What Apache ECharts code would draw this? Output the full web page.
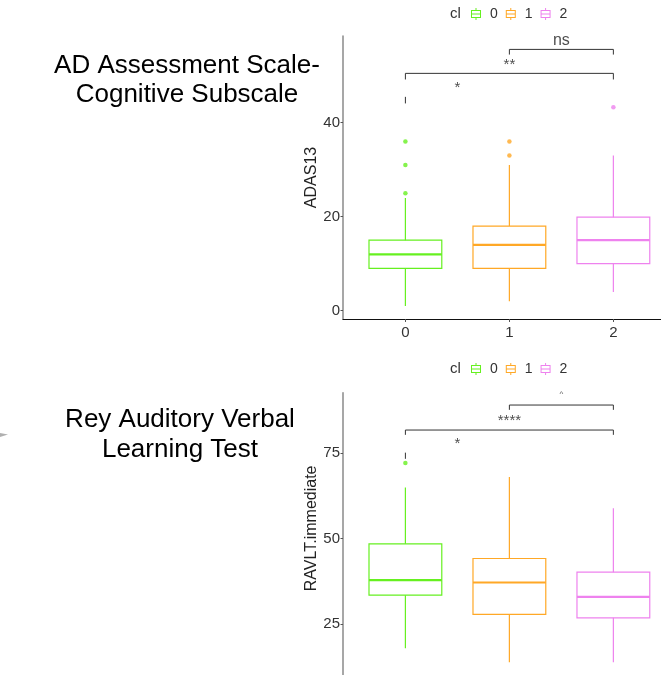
<!DOCTYPE html>
<html>
<head>
<meta charset="utf-8">
<script src="https://cdn.jsdelivr.net/npm/echarts@6/dist/echarts.min.js"></script>
<style>
html,body{margin:0;padding:0;background:#fff;}
#c{width:661px;height:675px;}
</style>
</head>
<body>
<div id="c"></div>
<script>
// ---------- data ----------
var groups = ['0', '1', '2'];
var groupX = [0, 1, 2];
// [min whisker, Q1, median, Q3, max whisker]
var adasBox = [
  [1, 9, 12, 15, 24],
  [2, 9, 14, 18, 31],
  [4, 10, 15, 19.9, 33]
];
var adasOutliers = [
  [25, 31, 36],
  [33, 36],
  [43.3]
];
var ravltBox = [
  [18, 33.5, 37.9, 48.5, 64.9],
  [13.9, 27.9, 37.2, 44.2, 68],
  [13.9, 26.9, 33, 40.2, 58.9]
];
var ravltOutliers = [
  [72.1],
  [],
  []
];
// brackets: [x1, x2, yLine, yTipEnd]
var adasBrackets = [
  [1, 2, 55.6, 54.5],
  [0, 2, 50.5, 49.2],
  [0, 0, 45.5, 44.1]
];
var adasLabels = [
  [1.5, 57.5, 'ns'],
  [1, 53.1, '**'],
  [0.5, 48.2, '*']
];
var ravltBrackets = [
  [1, 2, 89.0, 87.6],
  [0, 2, 81.7, 80.3],
  [0, 0, 75.1, 73.3]
];
var ravltLabels = [
  [1.5, 92.4, '^'],
  [1, 85.6, '****'],
  [0.5, 78.8, '*']
];
var adasTicks = [0, 20, 40];
var ravltTicks = [25, 50, 75];
// visible x-range (the panel is cut by the right edge of the picture)
var xRange = [-0.6, 2.458];

// ---------- styles ----------
var colors = ['#66F020', '#FFA826', '#EE82EE'];
var FONT = '"Liberation Sans", Arial, sans-serif';
var BOX_HALF = 0.35;
var legendIcon = 'path://M0 2H10V3H0Z M0 9H10V10H0Z M0 2H1V10H0Z M9 2H10V10H9Z M0 5.5H10V6.5H0Z M4.5 0H5.5V2H4.5Z M4.5 10H5.5V12H4.5Z';

function renderBox(params, api) {
  var x = api.value(0);
  var lo = api.value(1), q1 = api.value(2), med = api.value(3), q3 = api.value(4), hi = api.value(5);
  var col = api.visual('color');
  var pLo = api.coord([x, lo]), pQ1 = api.coord([x, q1]), pMed = api.coord([x, med]);
  var pQ3 = api.coord([x, q3]), pHi = api.coord([x, hi]);
  var l = api.coord([x - BOX_HALF, q1])[0], r = api.coord([x + BOX_HALF, q1])[0];
  return {
    type: 'group',
    children: [
      { type: 'line', shape: { x1: pLo[0], y1: pLo[1], x2: pQ1[0], y2: pQ1[1] }, style: { stroke: col, lineWidth: 1.2 } },
      { type: 'line', shape: { x1: pHi[0], y1: pHi[1], x2: pQ3[0], y2: pQ3[1] }, style: { stroke: col, lineWidth: 1.2 } },
      { type: 'rect', shape: { x: l, y: pQ3[1], width: r - l, height: pQ1[1] - pQ3[1] }, style: { fill: 'none', stroke: col, lineWidth: 1.2 } },
      { type: 'line', shape: { x1: l, y1: pMed[1], x2: r, y2: pMed[1] }, style: { stroke: col, lineWidth: 2.2 } }
    ]
  };
}

function renderBracket(params, api) {
  var x1 = api.value(0), x2 = api.value(1), yl = api.value(2), yt = api.value(3);
  var a = api.coord([x1, yt]), b = api.coord([x1, yl]), c = api.coord([x2, yl]), d = api.coord([x2, yt]);
  var pts = (x1 === x2) ? [a, b] : [a, b, c, d];
  return { type: 'polyline', shape: { points: pts }, style: { stroke: '#333', lineWidth: 1, fill: 'none' } };
}

function buildSeries(boxes, outliers, brackets, labels, idx) {
  var s = [];
  groups.forEach(function (g, i) {
    s.push({
      type: 'custom', name: g, xAxisIndex: idx, yAxisIndex: idx,
      itemStyle: { color: colors[i] },
      renderItem: renderBox, clip: false,
      encode: { x: 0, y: [1, 2, 3, 4, 5] },
      data: [[groupX[i]].concat(boxes[i])],
      z: 2
    });
    s.push({
      type: 'scatter', name: g, xAxisIndex: idx, yAxisIndex: idx,
      symbolSize: 4.5, itemStyle: { color: colors[i] },
      data: outliers[i].map(function (v) { return [groupX[i], v]; }),
      z: 3
    });
  });
  s.push({
    type: 'custom', xAxisIndex: idx, yAxisIndex: idx,
    renderItem: renderBracket, clip: false, encode: { x: [0, 1], y: [2, 3] },
    data: brackets, z: 4
  });
  s.push({
    type: 'scatter', xAxisIndex: idx, yAxisIndex: idx, symbolSize: 0,
    data: labels.map(function (l) {
      var big = l[2] === 'ns';
      var tiny = l[2] === '^';
      return {
        value: [l[0], l[1]], name: l[2],
        label: { show: true, position: 'inside', formatter: '{b}', color: '#222', fontFamily: FONT,
                 fontSize: big ? 16 : (tiny ? 8 : 15), offset: (big || tiny) ? [0, 0] : [0, 4] }
      };
    }),
    silent: true, z: 5
  });
  return s;
}

function legendCfg(top) {
  return {
    top: top, left: 471, padding: 0, itemWidth: 10, itemHeight: 12, itemGap: 8, icon: legendIcon,
    data: groups.map(function (g) { return { name: g, icon: legendIcon }; }),
    textStyle: { fontFamily: FONT, fontSize: 14, color: '#333', padding: [0, 0, 0, 4] },
    selectedMode: false
  };
}

var yAxisCommon = function (min, max, ticks, name, gridIndex, namePad) {
  return {
    type: 'value', gridIndex: gridIndex, min: min, max: max,
    name: name, nameLocation: 'middle', nameGap: 21, nameRotate: 90,
    nameTextStyle: { fontFamily: FONT, fontSize: 16, color: '#222', padding: namePad },
    splitLine: { show: false },
    axisLine: { show: true, onZero: false, lineStyle: { color: '#8a8a8a', width: 1.5 } },
    axisTick: { show: true, length: 2.5, lineStyle: { color: '#555' }, customValues: ticks },
    axisLabel: { fontFamily: FONT, fontSize: 15, color: '#333', margin: 3, customValues: ticks }
  };
};

var option = {
  animation: false,
  backgroundColor: '#fff',
  legend: [legendCfg(7), legendCfg(362)],
  grid: [
    { left: 343, top: 36, right: 0, height: 283 },
    { left: 343, top: 392.7, right: 0, bottom: 0 }
  ],
  xAxis: [
    {
      type: 'value', gridIndex: 0, min: xRange[0], max: xRange[1],
      splitLine: { show: false },
      axisLine: { show: true, onZero: false, lineStyle: { color: '#111', width: 1.2 } },
      axisTick: { show: true, length: 3, lineStyle: { color: '#555' }, customValues: groupX },
      axisLabel: { fontFamily: FONT, fontSize: 15, color: '#333', margin: 6, customValues: groupX,
                   formatter: function (v) { return groups[groupX.indexOf(v)]; } }
    },
    { type: 'value', gridIndex: 1, min: xRange[0], max: xRange[1], show: false }
  ],
  yAxis: [
    yAxisCommon(-1.77, 58.45, adasTicks, 'ADAS13', 0, [0, 0, 0, 0]),
    yAxisCommon(10.2, 92.6, ravltTicks, 'RAVLT.immediate', 1, [0, 0, 0, 11])
  ],
  graphic: [
    { type: 'text', left: 450, top: 6, style: { text: 'cl', fontFamily: FONT, fontSize: 15, fill: '#333' } },
    { type: 'text', left: 450, top: 361, style: { text: 'cl', fontFamily: FONT, fontSize: 15, fill: '#333' } },
    { type: 'text', x: 187, y: 66, style: { text: 'AD Assessment Scale-', fontFamily: FONT, fontSize: 26, fill: '#000', align: 'center', verticalAlign: 'middle' } },
    { type: 'text', x: 187, y: 95, style: { text: 'Cognitive Subscale', fontFamily: FONT, fontSize: 26, fill: '#000', align: 'center', verticalAlign: 'middle' } },
    { type: 'text', x: 180, y: 420, style: { text: 'Rey Auditory Verbal', fontFamily: FONT, fontSize: 26, fill: '#000', align: 'center', verticalAlign: 'middle' } },
    { type: 'text', x: 180, y: 450, style: { text: 'Learning Test', fontFamily: FONT, fontSize: 26, fill: '#000', align: 'center', verticalAlign: 'middle' } },
    { type: 'polygon', shape: { points: [[0, 433], [8, 434.5], [0, 437]] }, style: { fill: '#b0b0b0' } }
  ],
  series: [].concat(
    buildSeries(adasBox, adasOutliers, adasBrackets, adasLabels, 0),
    buildSeries(ravltBox, ravltOutliers, ravltBrackets, ravltLabels, 1)
  )
};

var chart = echarts.init(document.getElementById('c'), null, { renderer: 'canvas' });
chart.setOption(option);
</script>
</body>
</html>
